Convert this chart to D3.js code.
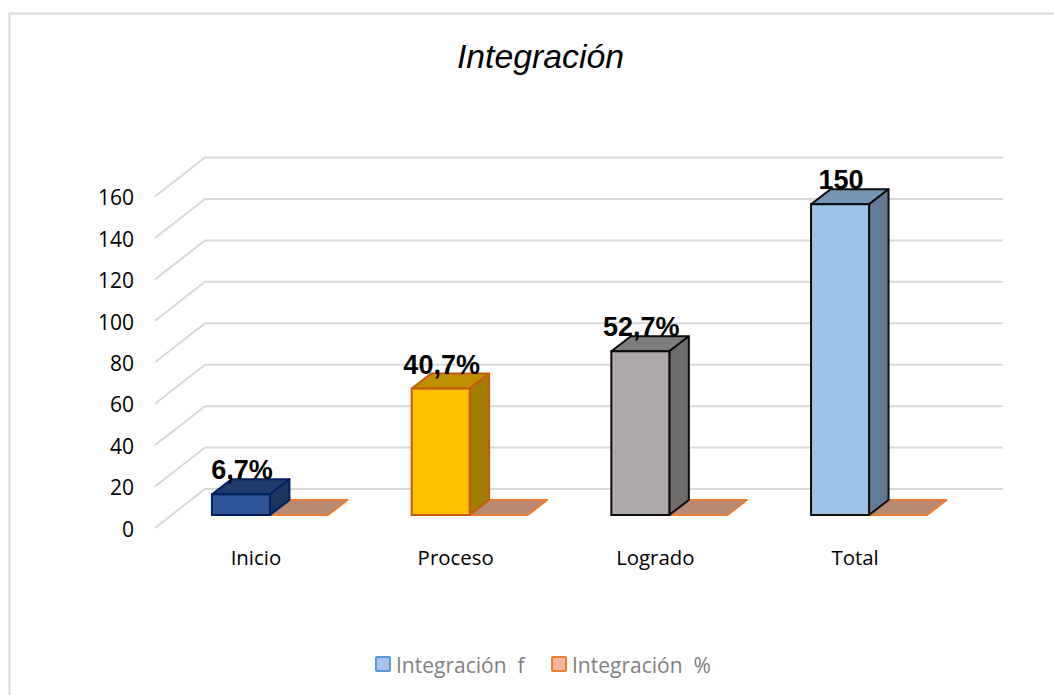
<!DOCTYPE html>
<html>
<head>
<meta charset="utf-8">
<title>Integración</title>
<script src="https://d3js.org/d3.v7.min.js"></script>
<style>
  body { margin: 0; background: #fff; }
  svg { display: block; }
</style>
</head>
<body>
<div id="container"></div>
<script>
//-----------------------------DATA------------------------------//
const categories = ["Inicio", "Proceso", "Logrado", "Total"];
const seriesNames = ["Integración  f", "Integración  %"];
const freq = [10, 61, 79, 150];
const barLabels = ["6,7%", "40,7%", "52,7%", "150"];
const yTicks = [0, 20, 40, 60, 80, 100, 120, 140, 160];

// colours per bar
const styles = [
  {front: "#2f5597", top: "#203c6e", side: "#1f3560", stroke: "#002060"},
  {front: "#ffc000", top: "#bf9000", side: "#a07c00", stroke: "#c55a11"},
  {front: "#aeaaaa", top: "#7f7c7c", side: "#6e6b6b", stroke: "#0d0d0d"},
  {front: "#9dc3e6", top: "#7695b5", side: "#627a96", stroke: "#0d0d0d"}
];

//-----------------------------SVG-------------------------------//
const width = 1054, height = 695;
const svg = d3.select("#container").append("svg")
    .attr("width", width)
    .attr("height", height);

// chart frame, right and bottom edges run off the picture
svg.append("rect")
    .attr("x", 9.5).attr("y", 13.5)
    .attr("width", 1060).attr("height", 700)
    .attr("fill", "#fff")
    .attr("stroke", "#d9d9d9")
    .attr("stroke-width", 2);

//----------------------------SCALES-----------------------------//
const wallDx = 50, wallDy = -39;   // floor depth of the whole plot
const barDx = 19.5, barDy = -15;   // depth of one bar
const floorY = 515;

const x = d3.scaleBand()
    .domain(categories)
    .range([170.5, 968.5])
    .paddingInner(0.419)
    .paddingOuter(0.2075);
const xSeries = d3.scaleBand().domain([0, 1]).range([0, x.bandwidth()]);
const h = d3.scaleLinear().domain([0, 160]).range([0, 331.5]);

//----------------------------GRID-------------------------------//
const grid = svg.append("g")
    .attr("fill", "none")
    .attr("stroke", "#d9d9d9")
    .attr("stroke-width", 2);

yTicks.forEach(t => {
    const y0 = 528 - h(t);
    grid.append("path")
        .attr("d", d3.line()([
            [155, y0],
            [155 + wallDx, y0 + wallDy],
            [1003, y0 + wallDy]
        ]));
});

//-----------------------------AXES------------------------------//
const yAxisScale = d3.scaleLinear().domain([0, 160]).range([529.5, 529.5 - h(160)]);
svg.append("g")
    .attr("transform", "translate(134,0)")
    .call(d3.axisLeft(yAxisScale).tickValues(yTicks).tickSize(0).tickPadding(0))
    .call(g => g.select(".domain").remove())
    .selectAll("text")
    .attr("fill", "#000")
    .style("font-family", "'Open Sans'")
    .style("font-size", "21px");

svg.append("g")
    .selectAll("text")
    .data(categories)
    .join("text")
    .attr("x", d => x(d) + x.bandwidth() / 2 - 14)
    .attr("y", 565)
    .attr("text-anchor", "middle")
    .attr("fill", "#000")
    .style("font-family", "'Open Sans'")
    .style("font-size", "20.4px")
    .text(d => d);

//----------------------------BARS-------------------------------//
function drawBar(g, x0, bw, y1, s) {
    const r = x0 + bw;
    g.append("path").attr("fill", s.top).attr("stroke", s.stroke).attr("stroke-width", 2)
        .attr("stroke-linejoin", "round")
        .attr("d", d3.line()([[x0, y1], [x0 + barDx, y1 + barDy], [r + barDx, y1 + barDy], [r, y1]]) + "Z");
    if (y1 < floorY) {
        g.append("path").attr("fill", s.side).attr("stroke", s.stroke).attr("stroke-width", 2)
            .attr("stroke-linejoin", "round")
            .attr("d", d3.line()([[r, y1], [r + barDx, y1 + barDy], [r + barDx, floorY + barDy], [r, floorY]]) + "Z");
        g.append("rect").attr("x", x0).attr("y", y1).attr("width", bw).attr("height", floorY - y1)
            .attr("fill", s.front).attr("stroke", s.stroke).attr("stroke-width", 2);
    }
}

const bars = svg.append("g");
categories.forEach((c, i) => {
    const g = bars.append("g");
    // flat % series first: it sits behind the side face of the f bar
    drawBar(g, x(c) + xSeries(1), xSeries.bandwidth(), floorY,
        {top: "#b98a72", stroke: "#ed7d31"});
    drawBar(g, x(c) + xSeries(0), xSeries.bandwidth(), floorY - h(freq[i]), styles[i]);
});

//----------------------------LABELS-----------------------------//
svg.append("g")
    .selectAll("text")
    .data(categories)
    .join("text")
    .attr("x", d => x(d) + xSeries(0) + xSeries.bandwidth() / 2 + 1)
    .attr("y", (d, i) => floorY - h(freq[i]) - 15)
    .attr("text-anchor", "middle")
    .attr("fill", "#000")
    .style("font-family", "'Liberation Sans'")
    .style("font-weight", "bold")
    .style("font-size", "27px")
    .text((d, i) => barLabels[i]);

//-----------------------------TITLE-----------------------------//
svg.append("text")
    .attr("x", 540.5)
    .attr("y", 67.5)
    .attr("text-anchor", "middle")
    .attr("fill", "#000")
    .style("font-family", "'Liberation Sans'")
    .style("font-style", "italic")
    .style("font-size", "33.8px")
    .text("Integración");

//----------------------------LEGEND-----------------------------//
const legendX = d3.scaleOrdinal().domain(seriesNames).range([376, 552]);
const legendFill = ["#a9c4e8", "#f6b9a0"];
const legendStroke = ["#5b9bd5", "#ed7d31"];
const legend = svg.append("g").selectAll("g")
    .data(seriesNames)
    .join("g")
    .attr("transform", d => "translate(" + legendX(d) + ",657)");
legend.append("rect")
    .attr("width", 14).attr("height", 14)
    .attr("rx", 1)
    .attr("fill", (d, i) => legendFill[i])
    .attr("stroke", (d, i) => legendStroke[i])
    .attr("stroke-width", 2);
legend.append("text")
    .attr("x", 20)
    .attr("y", 16)
    .attr("fill", "#7f7f7f")
    .style("white-space", "pre")
    .style("font-family", "'Open Sans'")
    .style("font-size", "21px")
    .text(d => d);
</script>
</body>
</html>
